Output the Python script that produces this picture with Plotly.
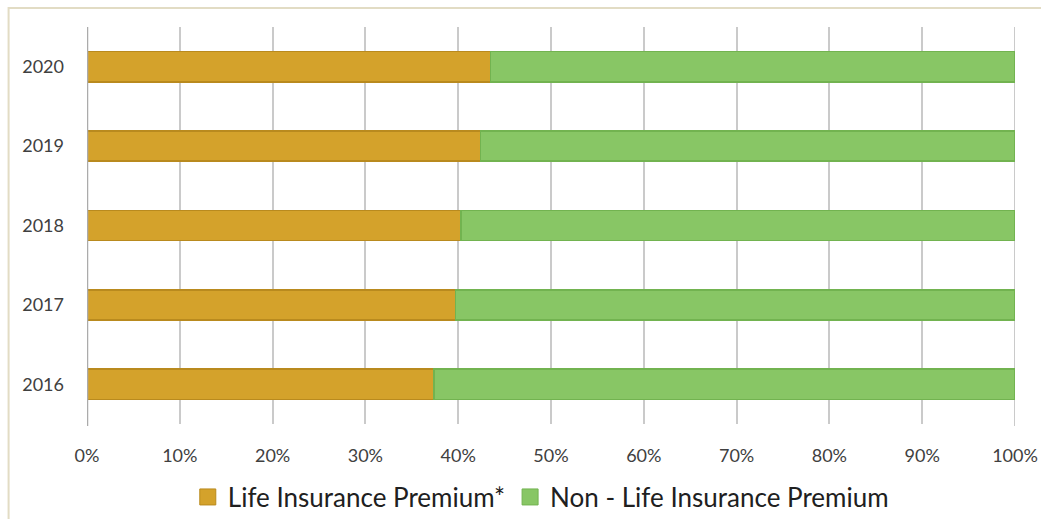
import plotly.graph_objects as go

years = ["2016", "2017", "2018", "2019", "2020"]
life = [37.4, 39.7, 40.3, 42.4, 43.5]
non_life = [100 - v for v in life]
x_ticks = [0, 10, 20, 30, 40, 50, 60, 70, 80, 90, 100]
x_tick_labels = [f"{v}%" for v in x_ticks]

life_color = "#D4A22B"
life_edge = "#B98A1E"
non_color = "#88C665"
non_edge = "#72B350"

fig = go.Figure()
fig.add_trace(go.Bar(
    y=years, x=life, orientation="h", name="Life Insurance Premium*",
    marker=dict(color=life_color, line=dict(color=life_edge, width=1.5)),
    width=0.38, showlegend=False,
))
fig.add_trace(go.Bar(
    y=years, x=non_life, orientation="h", name="Non - Life Insurance Premium",
    marker=dict(color=non_color, line=dict(color=non_edge, width=1.5)),
    width=0.38, showlegend=False,
))
# legend entries with larger square swatches
for nm, c, e in [("Life Insurance Premium*", life_color, life_edge),
                 ("Non - Life Insurance Premium", non_color, non_edge)]:
    fig.add_trace(go.Scatter(
        x=[None], y=[None], mode="markers", name=nm,
        marker=dict(symbol="square", size=16, color=c, line=dict(color=e, width=1)),
        showlegend=True, hoverinfo="skip",
    ))

fig.update_layout(
    barmode="stack",
    width=1041, height=519,
    margin=dict(l=86.5, r=26, t=27, b=95, autoexpand=False),
    paper_bgcolor="white", plot_bgcolor="white",
    font=dict(family="Lato, Liberation Sans, sans-serif", color="#404040", size=18),
    showlegend=True,
    legend=dict(orientation="h", x=0.489, xanchor="center", y=-0.184, yanchor="middle",
                font=dict(size=26, color="#202020"), traceorder="normal",
                itemwidth=30, itemsizing="trace"),
    xaxis=dict(range=[0, 100], tickvals=x_ticks, ticktext=x_tick_labels,
               showgrid=True, gridcolor="#CACACA", gridwidth=2,
               zeroline=False, showline=False, ticks="", ticklabelstandoff=19,
               ticklabeloverflow="allow",
               tickfont=dict(size=18, color="#404040"), fixedrange=True),
    yaxis=dict(categoryorder="array", categoryarray=years, range=[-0.5, 4.5],
               showgrid=False, zeroline=False, showline=False, ticks="",
               ticklabelstandoff=22, tickfont=dict(size=18, color="#404040"),
               fixedrange=True),
    shapes=[
        dict(type="line", xref="x", yref="paper", x0=0, x1=0, y0=-0.005, y1=1,
             line=dict(color="#ABABAB", width=2.5), layer="above"),
        dict(type="line", xref="x", yref="paper", x0=100, x1=100, y0=-0.005, y1=1,
             line=dict(color="#CACACA", width=2), layer="below"),
        dict(type="rect", xref="paper", yref="paper", x0=-0.0845, x1=1.2,
             y0=-0.5, y1=1.0479, line=dict(color="#E2DCC4", width=2),
             fillcolor="rgba(0,0,0,0)", layer="below"),
    ],
)

fig.write_html("out.html", config={"displayModeBar": False},
               post_script="document.body.style.margin='0';")
